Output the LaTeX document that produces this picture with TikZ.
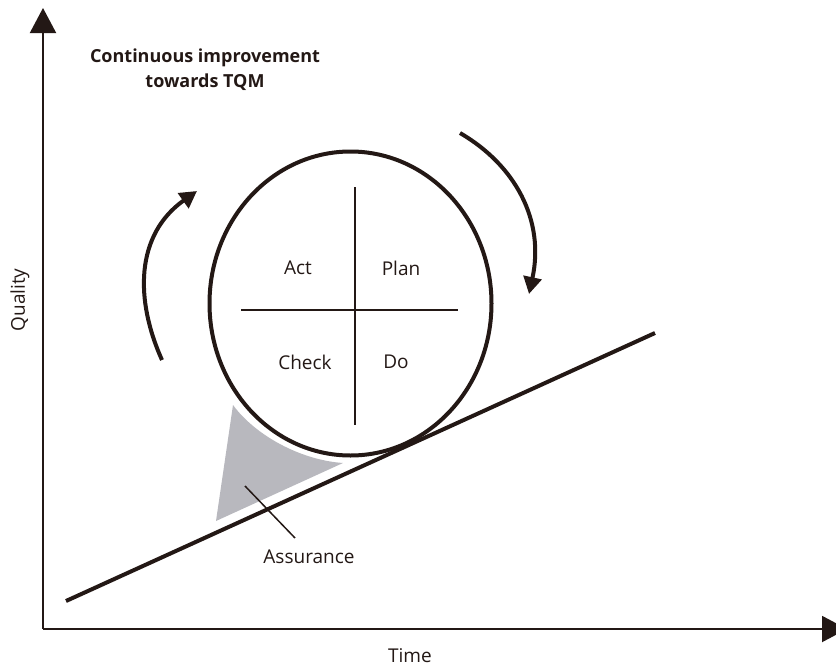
\documentclass[tikz,border=0pt]{standalone}
\usepackage{fontspec}
\setmainfont{Open Sans}
\usetikzlibrary{arrows.meta,shapes.geometric}

\newlength{\du}
\setlength{\du}{1pt}

\definecolor{inkcolor}{rgb}{0.137, 0.094, 0.082}
\definecolor{shadecolor}{rgb}{0.722, 0.722, 0.745}

\tikzset{
  axis/.style={draw=inkcolor, line width=2\du, -{Triangle[length=25pt,width=26pt]}},
  turn/.style={draw=inkcolor, line width=4\du, -{Triangle[length=17pt,width=18pt]}},
  thick line/.style={draw=inkcolor, line width=4\du},
  thin line/.style={draw=inkcolor, line width=1.5\du},
  word/.style={text=inkcolor, inner sep=0pt, font=\fontsize{19}{22}\selectfont},
}

\begin{document}
\begin{tikzpicture}
\pgftransformxscale{1.000000}
\pgftransformyscale{-1.000000}
\useasboundingbox (0\du,0\du) rectangle (836\du,667\du);
% axes
\coordinate (origin) at (43\du,629\du);
\coordinate (qtop) at (43\du,8\du);
\coordinate (tend) at (847\du,629\du);
\draw[axis] (origin) -- (qtop);
\draw[axis] (origin) -- (tend);
\node[word, rotate=90] (quality) at (20\du,300\du) {Quality};
\node[word] (time) at (410\du,656\du) {Time};
% slope
\coordinate (slopeA) at (66\du,601\du);
\coordinate (slopeB) at (655\du,333\du);
% wedge under the wheel
\fill[shadecolor] (233\du,405\du) .. controls (255\du,435\du) and (300\du,460\du) .. (343\du,463\du)
  -- (216\du,521\du) -- cycle;
\draw[thick line] (slopeA) -- (slopeB);
% wheel
\node[thick line, ellipse, minimum width=282\du, minimum height=304\du, inner sep=0pt] (pdca) at (350.5\du,303.5\du) {};
\coordinate (crossN) at (355\du,187\du);
\coordinate (crossS) at (355\du,425\du);
\coordinate (crossW) at (241\du,310\du);
\coordinate (crossE) at (458\du,310\du);
\draw[thin line] (crossN) -- (crossS);
\draw[thin line] (crossW) -- (crossE);
\node[word] (act) at (298\du,268\du) {Act};
\node[word] (plan) at (401\du,268\du) {Plan};
\node[word] (check) at (305\du,362\du) {Check};
\node[word] (do) at (396\du,362\du) {Do};
% turning arrows
\coordinate (leftA) at (162\du,360\du);
\coordinate (leftB) at (197\du,191\du);
\coordinate (rightA) at (460\du,133\du);
\coordinate (rightB) at (529\du,294\du);
\draw[turn] (leftA) .. controls (135\du,300\du) and (135\du,235\du) .. (leftB);
\draw[turn] (rightA) .. controls (515\du,165\du) and (545\du,220\du) .. (rightB);
% labels
\node[word, font=\fontsize{18}{25}\selectfont\bfseries, align=center] (title) at (205\du,70\du)
  {Continuous improvement\\towards TQM};
\coordinate (leadA) at (245\du,486\du);
\coordinate (leadB) at (295\du,538\du);
\draw[thin line] (leadA) -- (leadB);
\node[word] (assurance) at (309\du,557\du) {Assurance};
\end{tikzpicture}
\end{document}
